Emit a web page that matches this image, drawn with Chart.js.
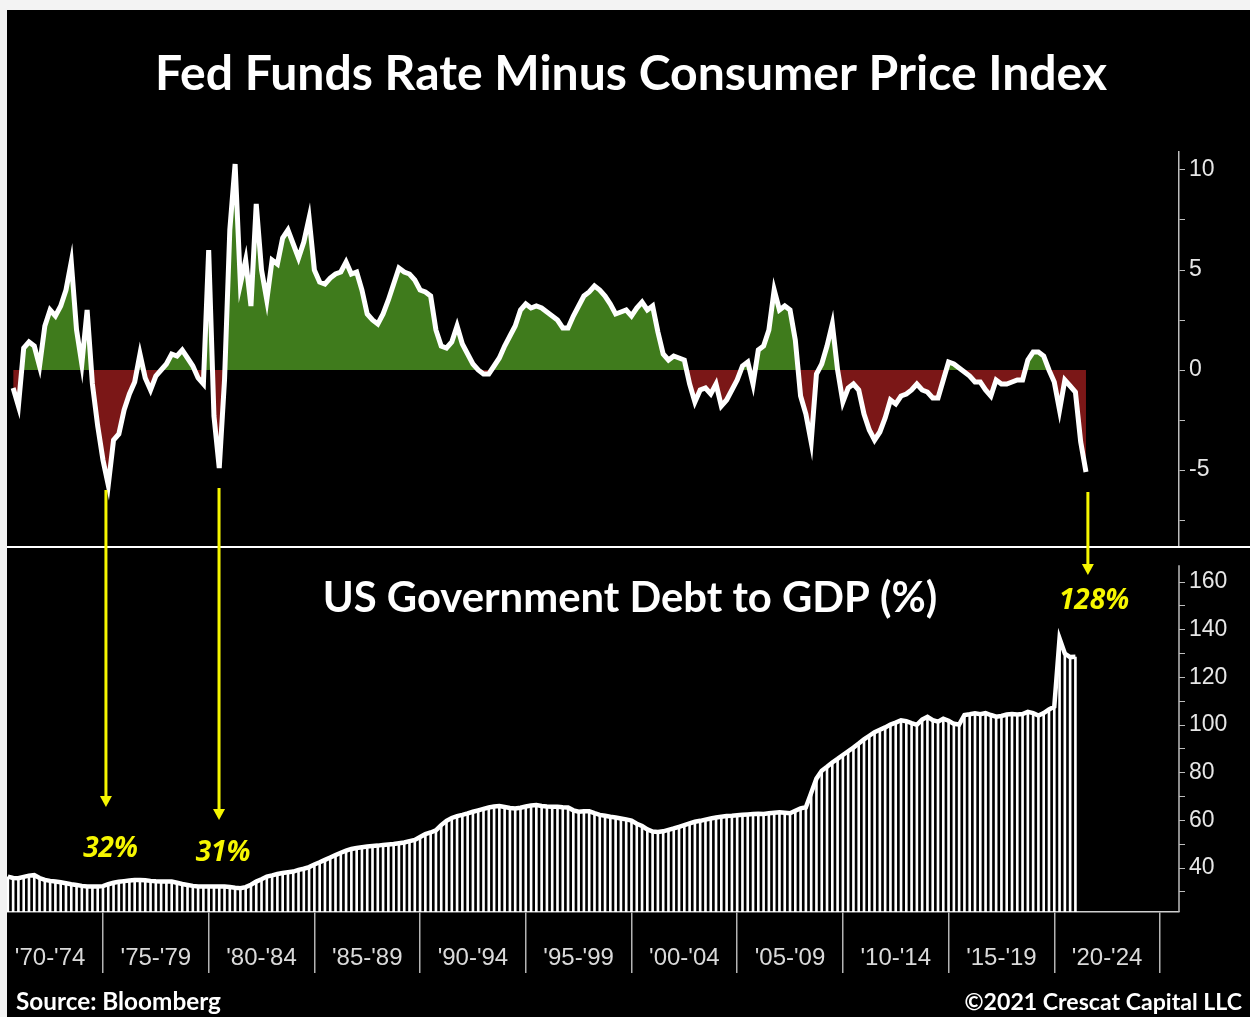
<!DOCTYPE html>
<html>
<head>
<meta charset="utf-8">
<title>Fed Funds Rate Minus CPI / US Debt to GDP</title>
<script src="https://cdn.jsdelivr.net/npm/chart.js@4.4.1/dist/chart.umd.min.js"></script>
<style>
  html, body { margin: 0; padding: 0; background: #f3f3f3; overflow: hidden; }
  #frame { position: absolute; left: 7px; top: 10px; width: 1243px; height: 1007px; background: #000; }
  canvas { display: block; }
</style>
</head>
<body>
<div id="frame"><canvas id="chart" width="1243" height="1007"></canvas></div>
<script>
// Fed funds rate minus CPI (%), quarterly, first point 1970 Q4
const ffcpiStart = 1970.75;
const ffcpiValues = [
  -0.9, -1.8, 1.1, 1.4, 1.2, 0.2, 2.2, 3.0, 2.7, 3.2,
  4.0, 5.4, 2.0, 0.3, 3.0, -0.7, -2.8, -4.5, -5.75, -3.5,
  -3.2, -2.0, -1.2, -0.6, 0.8, -0.4, -1.0, -0.3, 0.0, 0.3,
  0.8, 0.7, 1.0, 0.6, 0.2, -0.4, -0.7, 6.0, -2.3, -4.9,
  -0.5, 7.0, 10.3, 4.3, 5.5, 3.2, 8.3, 5.0, 3.5, 5.5,
  5.3, 6.6, 7.0, 6.3, 5.6, 6.4, 7.6, 5.0, 4.4, 4.3,
  4.6, 4.8, 4.9, 5.4, 4.8, 4.9, 4.0, 2.8, 2.5, 2.3,
  2.8, 3.5, 4.3, 5.1, 4.9, 4.8, 4.5, 4.0, 3.9, 3.7,
  2.0, 1.2, 1.1, 1.4, 2.2, 1.3, 0.8, 0.3, 0.0, -0.2,
  -0.2, 0.2, 0.6, 1.2, 1.7, 2.2, 3.0, 3.3, 3.1, 3.2,
  3.1, 2.9, 2.7, 2.5, 2.1, 2.1, 2.7, 3.2, 3.7, 3.9,
  4.2, 4.0, 3.7, 3.3, 2.8, 2.9, 3.0, 2.7, 3.1, 3.4,
  3.0, 3.2, 1.9, 0.8, 0.5, 0.7, 0.6, 0.5, -0.7, -1.6,
  -1.0, -0.9, -1.2, -0.7, -1.8, -1.5, -1.0, -0.5, 0.2, 0.4,
  -0.7, 1.0, 1.2, 2.0, 4.0, 3.0, 3.2, 3.0, 1.5, -1.3,
  -2.2, -3.6, -0.2, 0.3, 1.2, 2.3, 0.0, -1.6, -0.9, -0.7,
  -1.0, -2.2, -3.0, -3.5, -3.1, -2.4, -1.5, -1.7, -1.3, -1.2,
  -1.0, -0.7, -1.0, -1.1, -1.4, -1.4, -0.5, 0.4, 0.3, 0.1,
  -0.1, -0.3, -0.6, -0.6, -1.0, -1.3, -0.5, -0.7, -0.7, -0.6,
  -0.5, -0.5, 0.5, 0.9, 0.9, 0.7, 0.0, -0.6, -2.0, -0.5,
  -0.8, -1.1, -3.6, -5.1
];

// US government debt to GDP (%), quarterly, first point 1970 Q3
const debtStart = 1970.5;
const debtValues = [
  36.4, 35.8, 35.7, 36.3, 36.8, 37.0, 35.8, 35.0, 34.6, 34.3,
  34.0, 33.6, 33.2, 32.9, 32.5, 32.2, 32.2, 32.2, 32.4, 33.2,
  33.8, 34.2, 34.5, 34.8, 35.0, 35.0, 34.9, 34.6, 34.4, 34.3,
  34.3, 34.3, 33.8, 33.3, 32.9, 32.5, 32.2, 32.2, 32.2, 32.2,
  32.2, 32.2, 32.0, 31.7, 31.5, 32.0, 33.0, 34.3, 35.3, 36.4,
  36.9, 37.5, 37.9, 38.2, 38.5, 39.2, 39.7, 40.4, 41.5, 42.4,
  43.4, 44.4, 45.4, 46.4, 47.3, 48.0, 48.4, 48.7, 49.0, 49.2,
  49.4, 49.7, 49.9, 50.1, 50.4, 50.7, 51.3, 51.8, 53.0, 54.2,
  54.9, 55.8, 58.0, 59.8, 61.0, 61.8, 62.3, 62.9, 63.6, 64.2,
  64.8, 65.4, 65.8, 66.0, 65.6, 65.2, 65.0, 65.3, 65.8, 66.2,
  66.4, 66.0, 65.8, 65.7, 65.7, 65.5, 65.4, 64.2, 63.6, 63.8,
  63.8, 63.0, 62.3, 61.9, 61.5, 61.2, 60.8, 60.4, 59.9, 58.6,
  57.6, 56.2, 55.3, 55.1, 55.4, 56.0, 56.6, 57.3, 58.0, 58.7,
  59.4, 59.8, 60.3, 60.8, 61.2, 61.5, 61.8, 61.9, 62.1, 62.3,
  62.5, 62.7, 62.8, 62.7, 63.0, 63.2, 63.4, 63.2, 63.0, 64.0,
  65.0, 65.5, 71.5, 77.5, 80.8, 82.5, 84.3, 85.8, 87.4, 89.0,
  90.5, 92.2, 94.0, 95.5, 97.0, 98.0, 99.0, 100.2, 101.0, 102.0,
  101.6, 100.8, 100.1, 102.3, 103.4, 102.0, 101.4, 102.6, 101.8, 100.5,
  100.2, 104.2, 104.5, 104.9, 104.5, 105.0, 104.2, 103.5, 103.8, 104.4,
  104.6, 104.4, 104.6, 105.5, 105.0, 104.0, 105.0, 106.5, 107.7, 136.3,
  130.0, 128.5, 128.6
];

// x-axis periods, one label per five-year block
const periodLabels = ["'70-'74", "'75-'79", "'80-'84", "'85-'89", "'90-'94", "'95-'99",
                      "'00-'04", "'05-'09", "'10-'14", "'15-'19", "'20-'24"];

// yellow call-outs: year, arrow start (rate scale), arrow tip (debt scale), label
const calloutYears = [1975.14, 1980.49, 2021.59];
const calloutFrom = [-6.0, -5.9, -6.1];
const calloutTo = [65.6, 60.1, 162.9];
const calloutText = ['32%', '31%', '128%'];
const calloutTextAt = [[1975.36, 48.0], [1980.68, 46.3], [2021.88, 152.0]];

const ffcpiPoints = ffcpiValues.map((v, i) => ({ x: ffcpiStart + i / 4, y: v }));
const debtPoints = debtValues.map((v, i) => ({ x: debtStart + i / 4, y: v }));

const WHITE = '#ffffff';
const AXIS = '#bdbdbd';
const YELLOW = '#f6f600';
const tickFont = { family: "'Liberation Sans', Arial, sans-serif", size: 23 };

function fitFont(ctx, text, style, family, width) {
  ctx.font = style + ' 100px ' + family;
  const w = ctx.measureText(text).width;
  return style + ' ' + (100 * width / w).toFixed(1) + 'px ' + family;
}

const decor = {
  id: 'decor',
  afterDraw(chart) {
    const { ctx, width } = chart;
    const { x, yTop, yDebt } = chart.scales;
    ctx.save();

    // white rule between the two panels
    ctx.strokeStyle = WHITE;
    ctx.lineWidth = 2;
    ctx.beginPath();
    ctx.moveTo(0, yTop.bottom);
    ctx.lineTo(width, yTop.bottom);
    ctx.stroke();

    // debt axis line (starts a little below the rule)
    ctx.strokeStyle = AXIS;
    ctx.lineWidth = 1.5;
    ctx.beginPath();
    ctx.moveTo(yDebt.left, yDebt.getPixelForValue(167));
    ctx.lineTo(yDebt.left, yDebt.bottom);
    ctx.stroke();

    // titles
    const family = "Lato, 'Open Sans', sans-serif";
    ctx.fillStyle = WHITE;
    ctx.textAlign = 'center';
    ctx.textBaseline = 'alphabetic';
    const t1 = 'Fed Funds Rate Minus Consumer Price Index';
    ctx.font = fitFont(ctx, t1, 'bold', family, 952);
    ctx.fillText(t1, 624, 80);
    const t2 = 'US Government Debt to GDP (%)';
    ctx.font = fitFont(ctx, t2, 'bold', family, 614);
    ctx.fillText(t2, 623, 602);

    // arrows + percentages
    ctx.strokeStyle = YELLOW;
    ctx.fillStyle = YELLOW;
    ctx.lineWidth = 3;
    calloutYears.forEach((yr, i) => {
      const px = x.getPixelForValue(yr);
      const y0 = yTop.getPixelForValue(calloutFrom[i]);
      const y1 = yDebt.getPixelForValue(calloutTo[i]);
      ctx.beginPath();
      ctx.moveTo(px, y0);
      ctx.lineTo(px, y1 - 9);
      ctx.stroke();
      ctx.beginPath();
      ctx.moveTo(px - 6, y1 - 11);
      ctx.lineTo(px + 6, y1 - 11);
      ctx.lineTo(px, y1);
      ctx.closePath();
      ctx.fill();

      const [lx, ly] = calloutTextAt[i];
      ctx.font = "italic bold 28px 'Open Sans', Lato, sans-serif";
      ctx.textAlign = 'center';
      ctx.textBaseline = 'middle';
      ctx.fillText(calloutText[i], x.getPixelForValue(lx), yDebt.getPixelForValue(ly));
    });

    // footer
    ctx.fillStyle = WHITE;
    ctx.textBaseline = 'alphabetic';
    const s1 = 'Source: Bloomberg';
    ctx.font = fitFont(ctx, s1, 'bold', family, 205);
    ctx.textAlign = 'left';
    ctx.fillText(s1, 9, 1000);
    const s2 = '\u00A92021 Crescat Capital LLC';
    ctx.font = fitFont(ctx, s2, 'bold', family, 277);
    ctx.textAlign = 'right';
    ctx.fillText(s2, 1235, 1000);

    ctx.restore();
  }
};

new Chart(document.getElementById('chart'), {
  type: 'bar',
  data: {
    datasets: [
      {
        type: 'line',
        label: 'Fed Funds Rate minus CPI',
        data: ffcpiPoints,
        yAxisID: 'yTop',
        borderColor: WHITE,
        borderWidth: 5,
        pointRadius: 0,
        tension: 0,
        fill: { target: { value: 0 }, above: '#3f7b1c', below: '#7b1717' },
        order: 1
      },
      {
        type: 'line',
        label: 'Debt to GDP',
        data: debtPoints,
        yAxisID: 'yDebt',
        borderColor: WHITE,
        borderWidth: 4.5,
        pointRadius: 0,
        tension: 0,
        fill: false,
        order: 1
      },
      {
        type: 'bar',
        label: 'Debt to GDP bars',
        data: debtPoints,
        yAxisID: 'yDebt',
        backgroundColor: WHITE,
        barPercentage: 0.5,
        categoryPercentage: 1,
        order: 2
      }
    ]
  },
  options: {
    responsive: false,
    animation: false,
    layout: { padding: { top: 142, left: 0, right: 0, bottom: 0 } },
    plugins: { legend: { display: false }, tooltip: { enabled: false } },
    scales: {
      x: {
        type: 'linear',
        min: 1970.46,
        max: 2025.9,
        offset: false,
        grid: {
          offset: false,
          drawOnChartArea: false,
          drawTicks: true,
          tickLength: 61,
          color: '#b4b4b4',
          tickColor: '#b4b4b4',
          lineWidth: 1.5,
          tickWidth: 1.5
        },
        border: { display: true, color: '#cfcfcf', width: 1.5 },
        ticks: {
          stepSize: 5,
          includeBounds: false,
          autoSkip: false,
          maxRotation: 0,
          labelOffset: -52.85,
          padding: -29,
          color: '#dadada',
          font: { family: tickFont.family, size: 24 },
          callback: (v, i) => periodLabels[i] ?? ''
        },
        afterFit: s => { s.height = 105; }
      },
      yTop: {
        type: 'linear',
        position: 'right',
        stack: 'panels',
        stackWeight: 395,
        min: -8.85,
        max: 10.9,
        grid: { drawOnChartArea: false, drawTicks: true, tickLength: 6, color: AXIS },
        border: { display: true, color: AXIS, width: 1.5 },
        ticks: {
          stepSize: 2.5,
          includeBounds: false,
          autoSkip: false,
          padding: 4,
          color: '#e6e6e6',
          font: tickFont,
          callback: v => (v % 5 === 0 ? String(v) : '')
        },
        afterFit: s => { s.width = 71; }
      },
      yDebt: {
        type: 'linear',
        position: 'right',
        stack: 'panels',
        stackWeight: 365,
        min: 21.54,
        max: 174.7,
        grid: { drawOnChartArea: false, drawTicks: true, tickLength: 6, color: AXIS },
        border: { display: false },
        ticks: {
          stepSize: 10,
          includeBounds: false,
          autoSkip: false,
          padding: 4,
          color: '#e6e6e6',
          font: tickFont,
          callback: v => (v % 20 === 0 ? String(v) : '')
        },
        afterBuildTicks: s => { s.ticks = s.ticks.filter(t => t.value <= 160); },
        afterFit: s => { s.width = 71; }
      }
    }
  },
  plugins: [decor]
});
</script>
</body>
</html>
